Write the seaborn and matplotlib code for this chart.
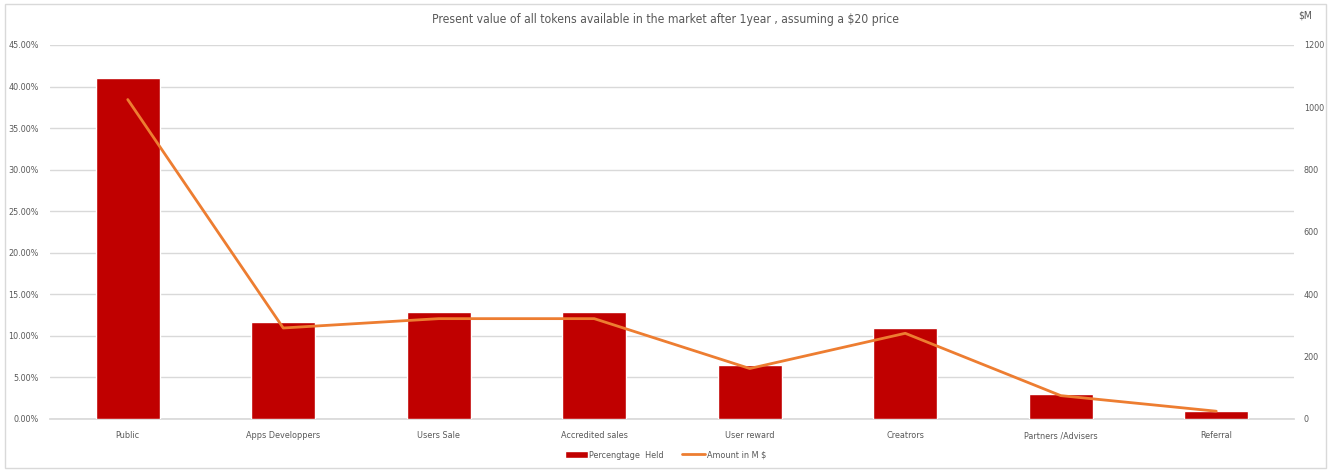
import matplotlib
matplotlib.use("Agg")
import matplotlib.pyplot as plt
import seaborn as sns
import pandas as pd
from matplotlib.ticker import FuncFormatter
from matplotlib.patches import Rectangle

categories = ["Public", "Apps Developpers", "Users Sale", "Accredited sales",
              "User reward", "Creatrors", "Partners /Advisers", "Referral"]
pct_held = [41.0, 11.7, 12.9, 12.9, 6.5, 11.0, 3.0, 1.0]
amount_m = [1025, 292, 322, 322, 162, 275, 75, 25]

sns.set_theme(style="white")
plt.rcParams['font.family'] = ['DejaVu Sans', 'Liberation Sans']
plt.rcParams['font.stretch'] = 'condensed'
txt = "#595959"

df = pd.DataFrame({"cat": categories, "pct": pct_held, "amt": amount_m})

fig = plt.figure(figsize=(13.31, 4.72), dpi=100)
ax = fig.add_axes([50/1331, 1-419/472, (1294-50)/1331, (419-45)/472])
sns.barplot(data=df, x="cat", y="pct", color="#c00000", width=0.41,
            saturation=1, ax=ax, label="Percengtage  Held", zorder=3)
ax.set_ylim(0, 45)
ax.set_yticks(range(0, 46, 5))
ax.yaxis.set_major_formatter(FuncFormatter(lambda v, p: f"{v:.2f}%"))
ax.set_xlim(-0.5, 7.5)
ax.grid(axis="y", color="#d9d9d9", lw=1, zorder=0)
ax.set_axisbelow(True)
for s in ["left", "right", "top"]:
    ax.spines[s].set_visible(False)
ax.spines["bottom"].set_color("#d9d9d9")
ax.set_xlabel("")
ax.set_ylabel("")
ax.tick_params(axis="x", length=0, labelsize=6.5, colors=txt, pad=9)
ax.tick_params(axis="y", length=0, labelsize=6.5, colors=txt, pad=8)

ax2 = ax.twinx()
sns.lineplot(data=df, x="cat", y="amt", color="#ed7d31", lw=2, ax=ax2,
             label="Amount in M $", sort=False)
ax2.set_ylim(0, 1200)
ax2.set_yticks(range(0, 1201, 200))
ax2.set_ylabel("")
for s in ["left", "right", "top", "bottom"]:
    ax2.spines[s].set_visible(False)
ax2.tick_params(axis="y", length=0, labelsize=6.5, colors=txt, pad=7)
ax2.grid(False)
ax2.set_xlim(-0.5, 7.5)

h1, l1 = ax.get_legend_handles_labels()
h2, l2 = ax2.get_legend_handles_labels()
if ax2.get_legend():
    ax2.get_legend().remove()
if ax.get_legend():
    ax.get_legend().remove()
fig.legend(h1 + h2, l1 + l2, loc="center", bbox_to_anchor=(0.5, 1-455/472),
           ncol=2, frameon=False, fontsize=6.5, labelcolor=txt,
           handlelength=2.5, handletextpad=0.2, columnspacing=2.0)

fig.text(0.5, 1-20/472, "Present value of all tokens available in the market after 1year , assuming a $20 price",
         ha="center", va="center", fontsize=8.7, color=txt)
fig.text(1305/1331, 1-15/472, "$M", ha="center", va="center", fontsize=7.5, color=txt)

fig.patches.append(Rectangle((5/1331, 4/472), 1321/1331, 464/472, transform=fig.transFigure,
                             fill=False, edgecolor="#d9d9d9", lw=1))

fig.savefig("out.png", dpi=100, facecolor="white")
